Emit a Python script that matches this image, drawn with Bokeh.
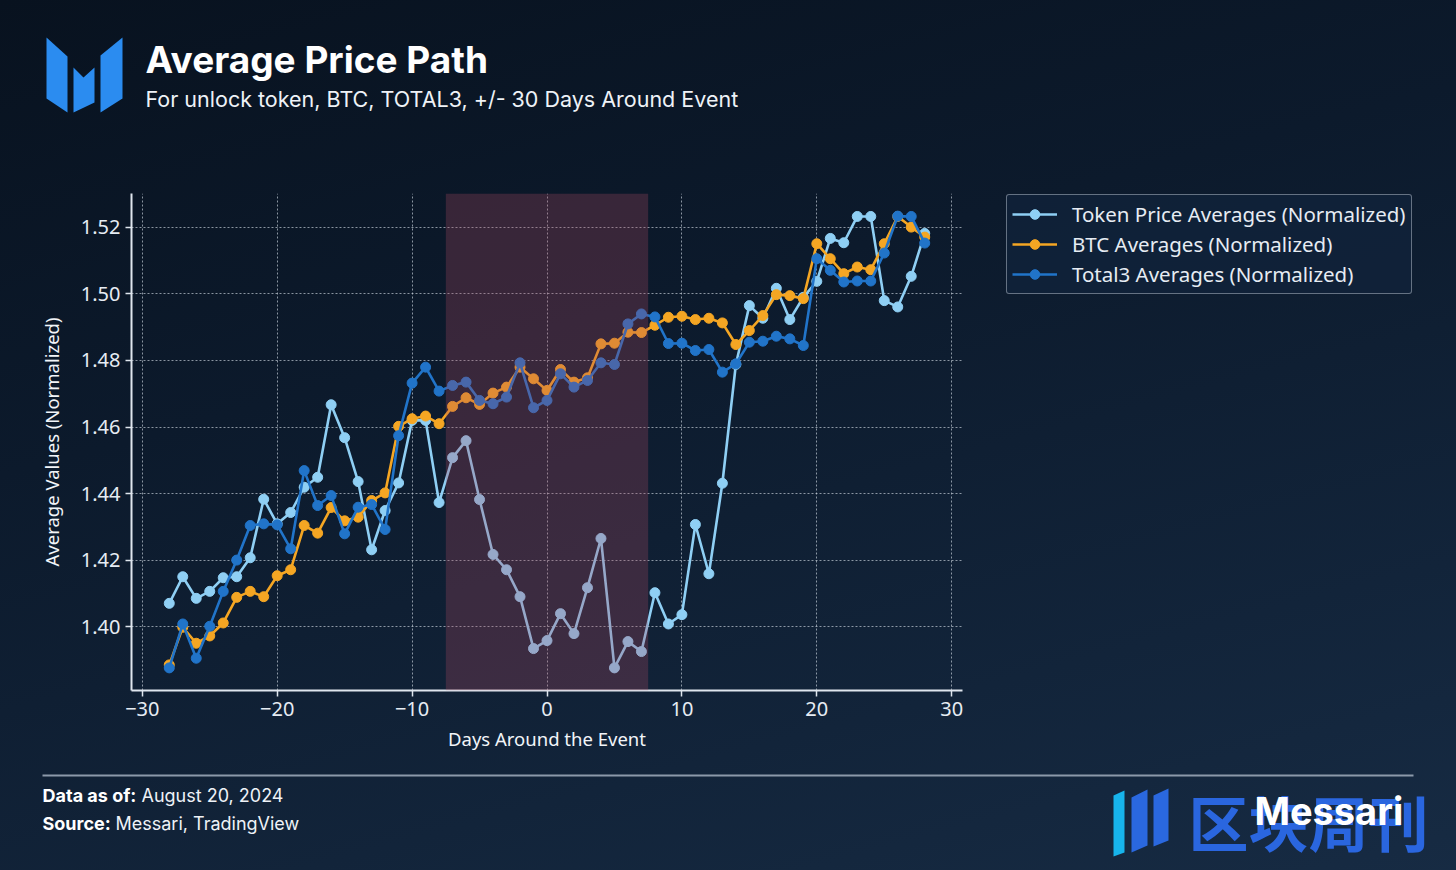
from bokeh.plotting import figure
from bokeh.layouts import column
from bokeh.models import (Legend, LegendItem, BoxAnnotation, FixedTicker,
                          NumeralTickFormatter, Range1d)
from bokeh.core.properties import value
from bokeh.embed import file_html
from bokeh.resources import INLINE

# ---------------- data ----------------
days = list(range(-28, 29))
token_avg = [1.4070, 1.4150, 1.4085, 1.4106, 1.4147, 1.4150, 1.4207, 1.4383, 1.4309, 1.4343,
             1.4419, 1.4449, 1.4667, 1.4568, 1.4436, 1.4231, 1.4349, 1.4432, 1.4620, 1.4620,
             1.4373, 1.4508, 1.4559, 1.4382, 1.4217, 1.4171, 1.4090, 1.3934, 1.3958, 1.4039,
             1.3979, 1.4117, 1.4265, 1.3876, 1.3955, 1.3925, 1.4102, 1.4008, 1.4036, 1.4307,
             1.4159, 1.4431, 1.4788, 1.4965, 1.4927, 1.5017, 1.4923, 1.4990, 1.5038, 1.5167,
             1.5154, 1.5233, 1.5233, 1.4980, 1.4961, 1.5053, 1.5182]
btc_avg = [1.3885, 1.3998, 1.3950, 1.3972, 1.4011, 1.4088, 1.4106, 1.4090, 1.4153, 1.4171,
           1.4304, 1.4281, 1.4358, 1.4318, 1.4329, 1.4379, 1.4402, 1.4602, 1.4625, 1.4633,
           1.4610, 1.4662, 1.4688, 1.4668, 1.4702, 1.4720, 1.4780, 1.4745, 1.4710, 1.4773,
           1.4735, 1.4748, 1.4850, 1.4852, 1.4885, 1.4884, 1.4906, 1.4930, 1.4933, 1.4923,
           1.4927, 1.4913, 1.4848, 1.4890, 1.4935, 1.4998, 1.4995, 1.4986, 1.5151, 1.5106,
           1.5061, 1.5081, 1.5073, 1.5151, 1.5233, 1.5201, 1.5171]
total3_avg = [1.3876, 1.4008, 1.3905, 1.4001, 1.4106, 1.4200, 1.4304, 1.4309, 1.4306, 1.4234,
              1.4469, 1.4364, 1.4394, 1.4279, 1.4359, 1.4367, 1.4292, 1.4574, 1.4732, 1.4780,
              1.4708, 1.4725, 1.4735, 1.4680, 1.4670, 1.4690, 1.4793, 1.4658, 1.4680, 1.4760,
              1.4720, 1.4740, 1.4793, 1.4788, 1.4910, 1.4940, 1.4931, 1.4851, 1.4852, 1.4830,
              1.4833, 1.4765, 1.4790, 1.4855, 1.4858, 1.4873, 1.4865, 1.4845, 1.5106, 1.5071,
              1.5036, 1.5039, 1.5039, 1.5123, 1.5234, 1.5233, 1.5153]
series_names = ["Token Price Averages (Normalized)", "BTC Averages (Normalized)",
                "Total3 Averages (Normalized)"]
event_window = [-7.5, 7.5]
x_ticks = [-30, -20, -10, 0, 10, 20, 30]
x_tick_labels = ["\u221230", "\u221220", "\u221210", "0", "10", "20", "30"]
y_ticks = [1.40, 1.42, 1.44, 1.46, 1.48, 1.50, 1.52]

title_text = "Average Price Path"
subtitle_text = "For unlock token, BTC, TOTAL3, +/- 30 Days Around Event"
x_label = "Days Around the Event"
y_label = "Average Values (Normalized)"
footer_keys = ["Data as of:", "Source:"]
footer_vals = ["August 20, 2024", "Messari, TradingView"]

W = 1456
HEAD_H, MAIN_H, FOOT_H = 185, 580, 105   # page y: 0-185, 185-765, 765-870


def deco_fig(h, y_top):
    f = figure(width=W, height=h, x_range=Range1d(0, W), y_range=Range1d(y_top + h, y_top),
               frame_width=W, frame_height=h, frame_align=False,
               output_backend="svg", toolbar_location=None, x_axis_type=None, y_axis_type=None,
               min_border=0, outline_line_color=None,
               background_fill_alpha=0, border_fill_alpha=0)
    f.xgrid.visible = False
    f.ygrid.visible = False
    return f


# ---------------- header ----------------
head = deco_fig(HEAD_H, 0)
logo_xs = [[46, 67, 67, 46], [73, 83, 94, 94, 73], [100, 122, 122, 100]]
logo_ys = [[37, 56, 112, 98], [67, 77, 67, 102, 112], [55, 37, 98, 112]]
head.patches(logo_xs, logo_ys, fill_color="#2b8cf0", line_color=None)
head.text(x=[145], y=[59], text=[title_text], text_font=value("Inter"), text_font_size="37px",
          text_font_style="bold", text_color="#ffffff", text_baseline="middle")
head.text(x=[145], y=[98], text=[subtitle_text], text_font=value("Inter"),
          text_font_size="21.5px", text_color="#eef2f7", text_baseline="middle")

# ---------------- main chart ----------------
p = figure(width=W, height=MAIN_H, frame_width=831, frame_height=497, frame_align=False,
           x_range=Range1d(-30.8, 30.8), y_range=Range1d(1.3808, 1.5302),
           output_backend="svg", toolbar_location=None,
           min_border_left=131, min_border_right=494, min_border_top=8, min_border_bottom=75,
           background_fill_alpha=0, border_fill_alpha=0, outline_line_color=None)

colors = ["#8fcff4", "#f5a623", "#2174c9"]
series = [token_avg, btc_avg, total3_avg]
items = []
for name, col, yv in zip(series_names, colors, series):
    r1 = p.line(days, yv, line_color=col, line_width=2.6)
    r2 = p.scatter(days, yv, size=10, fill_color=col, line_color=col)
    items.append(LegendItem(label=name, renderers=[r1, r2]))

p.add_layout(BoxAnnotation(left=event_window[0], right=event_window[1],
                           fill_color="#aa485f", fill_alpha=0.29, line_color=None,
                           level="overlay"))

for ax in (p.xaxis[0], p.yaxis[0]):
    ax.axis_line_color = "#dfe6ee"
    ax.axis_line_width = 2
    ax.major_tick_line_color = "#dfe6ee"
    ax.major_tick_line_width = 1.5
    ax.major_tick_out = 6
    ax.major_tick_in = 0
    ax.minor_tick_line_color = None
    ax.major_label_text_color = "#e6ecf3"
    ax.major_label_text_font = "Noto Sans"
    ax.major_label_text_font_size = "20px"
    ax.axis_label_text_color = "#f2f5f9"
    ax.axis_label_text_font = "Noto Sans"
    ax.axis_label_text_font_size = "18.5px"
    ax.axis_label_text_font_style = "normal"
    ax.major_label_standoff = 5

p.xaxis.ticker = FixedTicker(ticks=x_ticks)
p.xaxis.major_label_overrides = {t: l for t, l in zip(x_ticks, x_tick_labels)}
p.yaxis.ticker = FixedTicker(ticks=y_ticks)
p.yaxis.formatter = NumeralTickFormatter(format="0.00")
p.xaxis.axis_label = x_label
p.yaxis.axis_label = y_label
p.xaxis.axis_label_standoff = 7
p.yaxis.axis_label_standoff = 14

for g in (p.xgrid[0], p.ygrid[0]):
    g.grid_line_color = "#d0d8e2"
    g.grid_line_alpha = 0.65
    g.grid_line_dash = "2 2"
    g.grid_line_width = 1

legend = Legend(items=items, location=(44, 396))
legend.label_text_font = "Noto Sans"
legend.label_text_font_size = "20.5px"
legend.label_text_color = "#e6ecf3"
legend.background_fill_color = "#10223a"
legend.background_fill_alpha = 0.85
legend.border_line_color = "#b9c3cf"
legend.border_line_width = 1.5
legend.border_radius = 3
legend.glyph_width = 45
legend.glyph_height = 24
legend.label_height = 24
legend.label_standoff = 15
legend.spacing = 2
legend.padding = 5
legend.margin = 0
p.add_layout(legend, "right")

# ---------------- footer ----------------
foot = deco_fig(FOOT_H, 765)
foot.line(x=[42, 1413], y=[775, 775], line_color="#8c99aa", line_width=2)
foot.text(x=[42, 42], y=[795, 823], text=footer_keys, text_font=value("Inter"),
          text_font_size="18px", text_font_style="bold", text_color="#ffffff",
          text_baseline="middle")
foot.text(x=[141, 115], y=[795, 823], text=footer_vals, text_font=value("Inter"),
          text_font_size="18px", text_color="#eef2f7", text_baseline="middle")
bar_xs = [[1113, 1124, 1124, 1113], [1131, 1147, 1147, 1131], [1153, 1168, 1168, 1153]]
bar_ys = [[795, 790, 852, 856], [797, 789, 845, 852], [795, 788, 840, 846]]
foot.patches(bar_xs, bar_ys, fill_color=["#17b4ec", "#2a68df", "#2a68df"], line_color=None)
foot.text(x=[1188], y=[820], text=["区块周刊"], text_font=value("Noto Sans CJK SC"),
          text_font_size="60px", text_font_style="bold", text_color="#2a66df",
          text_baseline="middle")
foot.text(x=[1254], y=[810], text=["Messari"], text_font=value("Inter"), text_font_size="38px",
          text_font_style="bold", text_color="#ffffff", text_baseline="middle")

layout = column(head, p, foot, spacing=0,
                styles={"background": "linear-gradient(165deg, #08121f 0%, #0c1a2c 35%, "
                                      "#12243a 70%, #182d46 100%)"})

open("out.html", "w").write(file_html(layout, INLINE))
